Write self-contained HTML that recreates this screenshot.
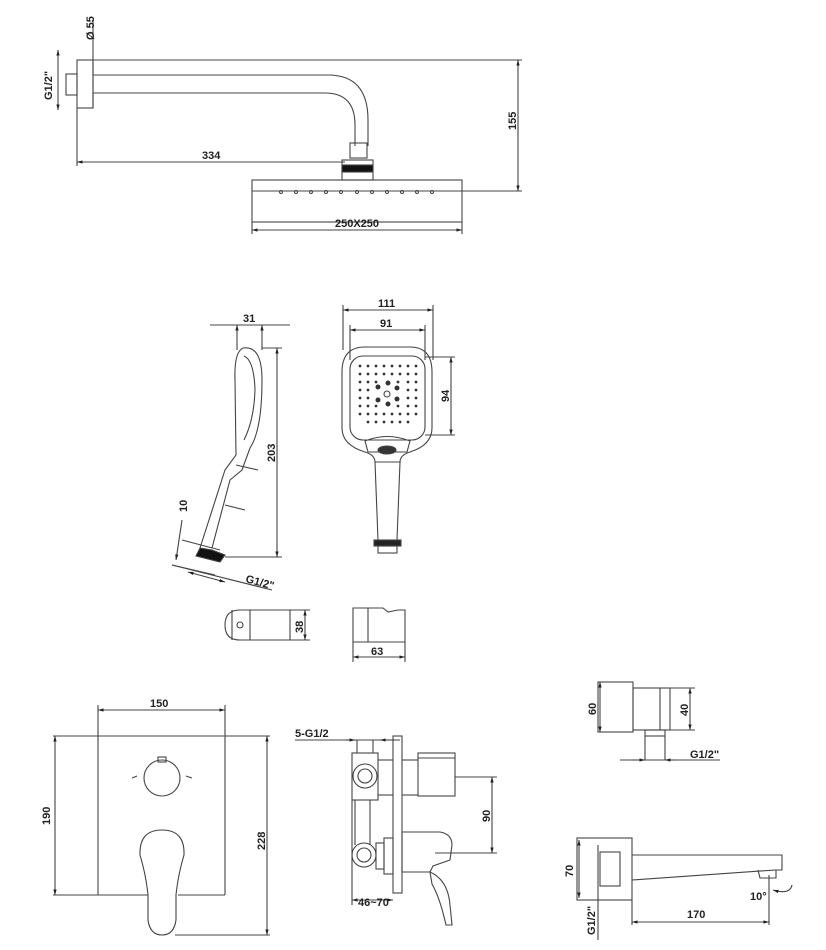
<!DOCTYPE html>
<html><head><style>html,body{margin:0;padding:0;background:#fff}svg{display:block}
text{font-family:"Liberation Sans",sans-serif;font-size:11px;fill:#222;font-weight:bold}</style></head>
<body>
<svg width="826" height="950" viewBox="0 0 826 950" xmlns="http://www.w3.org/2000/svg">
<defs>
<marker id="a" viewBox="0 0 10 10" refX="10" refY="5" markerWidth="9" markerHeight="5" orient="auto-start-reverse"><path d="M0,2 L10,5 L0,8z" fill="#222"/></marker>
</defs>
<g fill="none" stroke="#444" stroke-width="1.1">
<!-- TOP: shower arm -->
<rect x="77" y="60" width="16" height="48"/>
<rect x="66" y="74" width="11" height="21"/>
<path d="M93,75 H328 Q368,75 368,120 V146"/>
<path d="M93,93 H325 Q355,93 355,125 V146"/>
<rect x="350" y="143" width="17" height="15"/>
<rect x="342" y="160" width="31" height="20"/>
<rect x="342" y="165" width="31" height="7" fill="#111"/>
<rect x="252" y="180" width="210" height="42"/>
<line x1="252" y1="191" x2="462" y2="191"/>
<line x1="93" y1="60" x2="522" y2="60"/>
<line x1="462" y1="191" x2="522" y2="191"/>
<line x1="518" y1="60" x2="518" y2="191" marker-start="url(#a)" marker-end="url(#a)"/>
<line x1="77" y1="108" x2="77" y2="166"/>
<line x1="77" y1="162" x2="345" y2="162" marker-start="url(#a)"/>
<line x1="252" y1="222" x2="252" y2="234"/><line x1="462" y1="222" x2="462" y2="234"/>
<line x1="252" y1="230" x2="462" y2="230" marker-start="url(#a)" marker-end="url(#a)"/>
<line x1="93" y1="20" x2="93" y2="108" />
<line x1="58" y1="50" x2="58" y2="110" marker-start="url(#a)" marker-end="url(#a)"/>
<g stroke-width="1"><circle cx="281" cy="192" r="1.5"/><circle cx="296" cy="192" r="1.5"/><circle cx="311" cy="192" r="1.5"/><circle cx="326" cy="192" r="1.5"/><circle cx="341" cy="192" r="1.5"/><circle cx="357" cy="192" r="1.5"/><circle cx="372" cy="192" r="1.5"/><circle cx="387" cy="192" r="1.5"/><circle cx="402" cy="192" r="1.5"/><circle cx="417" cy="192" r="1.5"/><circle cx="432" cy="192" r="1.5"/></g>

<!-- hand shower side -->
<line x1="210" y1="325" x2="290" y2="325"/>
<line x1="237" y1="325" x2="237" y2="350" marker-start="url(#a)"/>
<line x1="262" y1="325" x2="262" y2="350" marker-start="url(#a)"/>
<path d="M243,348 Q262,345 262,380 Q262,430 250,448 L242,470 L230,480 L212,548"/>
<path d="M243,348 Q234,352 235,380 L236,455 L225,470 L200,548"/>
<path d="M244,356 Q254,360 255,390 Q254,420 244,440"/>
<line x1="236" y1="465" x2="258" y2="470"/>
<line x1="225" y1="505" x2="245" y2="510"/>
<path d="M200,548 L212,550 L225,555 L220,562 L196,556z" fill="#111"/>
<line x1="262" y1="348" x2="282" y2="348"/>
<line x1="225" y1="557" x2="282" y2="557"/>
<line x1="277" y1="348" x2="277" y2="557" marker-start="url(#a)" marker-end="url(#a)"/>
<line x1="182" y1="540" x2="220" y2="550"/>
<line x1="172" y1="565" x2="215" y2="575"/>
<line x1="182" y1="520" x2="176" y2="560" marker-end="url(#a)"/>
<line x1="172" y1="565" x2="272" y2="590"/>
<line x1="188" y1="572" x2="225" y2="582" marker-start="url(#a)" marker-end="url(#a)"/>

<!-- hand shower front -->
<line x1="343" y1="305" x2="343" y2="350"/><line x1="433" y1="305" x2="433" y2="360"/>
<line x1="343" y1="310" x2="433" y2="310" marker-start="url(#a)" marker-end="url(#a)"/>
<line x1="350" y1="325" x2="350" y2="360"/><line x1="425" y1="325" x2="425" y2="360"/>
<line x1="350" y1="330" x2="425" y2="330" marker-start="url(#a)" marker-end="url(#a)"/>
<path d="M365,347 H410 Q432,347 432,372 V428 Q432,445 410,452 Q400,455 400,462 H375 Q375,455 365,452 Q342,445 342,428 V372 Q342,347 365,347z"/>
<rect x="350" y="356" width="75" height="84" rx="13"/>
<path d="M365,441 Q387,432 410,441 L407,452 H368z"/>
<ellipse cx="387" cy="450" rx="9" ry="4" fill="#333"/>
<path d="M375,462 L378,540 H397 L400,462"/>
<rect x="374" y="540" width="27" height="6" fill="#222"/>
<rect x="378" y="546" width="19" height="7"/>
<line x1="425" y1="357" x2="455" y2="357"/><line x1="425" y1="435" x2="455" y2="435"/>
<line x1="451" y1="357" x2="451" y2="435" marker-start="url(#a)" marker-end="url(#a)"/>
<g fill="#333" stroke="none">
<circle cx="360" cy="366" r="1.4"/><circle cx="368" cy="366" r="1.4"/><circle cx="376" cy="366" r="1.4"/><circle cx="384" cy="366" r="1.4"/><circle cx="392" cy="366" r="1.4"/><circle cx="400" cy="366" r="1.4"/><circle cx="408" cy="366" r="1.4"/><circle cx="416" cy="366" r="1.4"/>
<circle cx="360" cy="374" r="1.4"/><circle cx="368" cy="374" r="1.4"/><circle cx="376" cy="374" r="1.4"/><circle cx="384" cy="374" r="1.4"/><circle cx="392" cy="374" r="1.4"/><circle cx="400" cy="374" r="1.4"/><circle cx="408" cy="374" r="1.4"/><circle cx="416" cy="374" r="1.4"/>
<circle cx="360" cy="382" r="1.4"/><circle cx="368" cy="382" r="1.4"/><circle cx="376" cy="382" r="1.4"/><circle cx="398" cy="382" r="1.4"/><circle cx="408" cy="382" r="1.4"/><circle cx="416" cy="382" r="1.4"/>
<circle cx="360" cy="390" r="1.4"/><circle cx="368" cy="390" r="1.4"/><circle cx="408" cy="390" r="1.4"/><circle cx="416" cy="390" r="1.4"/>
<circle cx="360" cy="398" r="1.4"/><circle cx="368" cy="398" r="1.4"/><circle cx="408" cy="398" r="1.4"/><circle cx="416" cy="398" r="1.4"/>
<circle cx="360" cy="406" r="1.4"/><circle cx="368" cy="406" r="1.4"/><circle cx="376" cy="406" r="1.4"/><circle cx="398" cy="406" r="1.4"/><circle cx="408" cy="406" r="1.4"/><circle cx="416" cy="406" r="1.4"/>
<circle cx="360" cy="414" r="1.4"/><circle cx="368" cy="414" r="1.4"/><circle cx="376" cy="414" r="1.4"/><circle cx="384" cy="414" r="1.4"/><circle cx="392" cy="414" r="1.4"/><circle cx="400" cy="414" r="1.4"/><circle cx="408" cy="414" r="1.4"/><circle cx="416" cy="414" r="1.4"/>
<circle cx="368" cy="422" r="1.4"/><circle cx="376" cy="422" r="1.4"/><circle cx="384" cy="422" r="1.4"/><circle cx="392" cy="422" r="1.4"/><circle cx="400" cy="422" r="1.4"/><circle cx="408" cy="422" r="1.4"/>
<circle cx="378" cy="387" r="2.5"/><circle cx="388" cy="383" r="2.5"/><circle cx="397" cy="388" r="2.5"/><circle cx="378" cy="400" r="2.5"/><circle cx="388" cy="404" r="2.5"/><circle cx="397" cy="399" r="2.5"/>
</g>
<circle cx="387" cy="394" r="3"/>

<!-- holders -->
<path d="M240,610 H290 V640 H240 Q225,640 225,625 Q225,610 240,610z"/>
<line x1="232" y1="610" x2="232" y2="640"/><line x1="250" y1="610" x2="250" y2="640"/>
<circle cx="240" cy="625" r="3"/>
<line x1="290" y1="610" x2="310" y2="610"/><line x1="290" y1="640" x2="310" y2="640"/>
<line x1="305" y1="610" x2="305" y2="640" marker-start="url(#a)" marker-end="url(#a)"/>
<path d="M353,608 H383 L388,612 L398,610 H405 V642 H353z"/>
<line x1="368" y1="608" x2="368" y2="642"/>
<line x1="353" y1="642" x2="353" y2="662"/><line x1="405" y1="642" x2="405" y2="662"/>
<line x1="353" y1="657" x2="405" y2="657" marker-start="url(#a)" marker-end="url(#a)"/>

<!-- bottom left plate -->
<line x1="98" y1="705" x2="98" y2="895"/><line x1="225" y1="705" x2="225" y2="895"/>
<line x1="98" y1="710" x2="225" y2="710" marker-start="url(#a)" marker-end="url(#a)"/>
<line x1="53" y1="736" x2="270" y2="736"/>
<line x1="53" y1="895" x2="148" y2="895"/><line x1="178" y1="895" x2="225" y2="895"/>
<line x1="55" y1="736" x2="55" y2="895" marker-start="url(#a)" marker-end="url(#a)"/>
<line x1="267" y1="736" x2="267" y2="935" marker-start="url(#a)" marker-end="url(#a)"/>
<line x1="175" y1="935" x2="270" y2="935"/>
<circle cx="162" cy="778" r="18"/>
<rect x="158" y="757" width="8" height="5"/>
<path d="M162,830 Q185,830 184,855 Q178,875 176,895 L176,920 Q174,935 162,935 Q150,935 148,920 L148,895 Q146,875 140,855 Q139,830 162,830z"/>
<line x1="132" y1="778" x2="137" y2="776"/><line x1="186" y1="776" x2="192" y2="778"/>

<!-- bottom middle valve -->
<line x1="295" y1="740" x2="400" y2="740"/>
<line x1="345" y1="740" x2="355" y2="740" marker-end="url(#a)"/>
<line x1="395" y1="740" x2="380" y2="740" marker-end="url(#a)"/>
<line x1="357" y1="740" x2="357" y2="753"/><line x1="373" y1="740" x2="373" y2="753"/>
<rect x="352" y="753" width="26" height="47"/>
<circle cx="365" cy="776" r="12"/><circle cx="365" cy="776" r="7"/>
<rect x="393" y="736" width="9" height="157"/>
<line x1="378" y1="760" x2="393" y2="760"/><line x1="378" y1="795" x2="393" y2="795"/>
<line x1="402" y1="760" x2="418" y2="760"/><line x1="402" y1="795" x2="418" y2="795"/>
<rect x="418" y="753" width="37" height="43"/>
<line x1="418" y1="758" x2="455" y2="758"/>
<line x1="455" y1="777" x2="497" y2="777"/>
<line x1="355" y1="800" x2="355" y2="845"/><line x1="370" y1="800" x2="370" y2="845"/>
<circle cx="364" cy="855" r="12"/><circle cx="364" cy="855" r="7"/>
<rect x="376" y="843" width="8" height="26"/>
<rect x="384" y="838" width="9" height="36"/>
<path d="M402,832 H432 L440,832 Q452,834 452,845 L450,860 L433,866 L430,872 H402z"/>
<path d="M430,872 Q448,880 450,905 L452,925 L446,925 Q440,898 432,884z"/>
<line x1="435" y1="853" x2="497" y2="853"/>
<line x1="492" y1="777" x2="492" y2="853" marker-start="url(#a)" marker-end="url(#a)"/>
<line x1="352" y1="800" x2="352" y2="905"/>
<line x1="352" y1="900" x2="393" y2="900" marker-start="url(#a)" marker-end="url(#a)"/>

<!-- right elbow -->
<rect x="598" y="682" width="35" height="50"/>
<rect x="633" y="688" width="37" height="42"/>
<line x1="660" y1="688" x2="660" y2="730"/>
<rect x="645" y="730" width="20" height="6"/>
<line x1="645" y1="736" x2="645" y2="760"/><line x1="665" y1="736" x2="665" y2="760"/>
<line x1="600" y1="682" x2="600" y2="732" marker-start="url(#a)" marker-end="url(#a)"/>
<line x1="670" y1="688" x2="695" y2="688"/><line x1="670" y1="730" x2="695" y2="730"/>
<line x1="690" y1="688" x2="690" y2="730" marker-start="url(#a)" marker-end="url(#a)"/>
<line x1="620" y1="760" x2="720" y2="760"/>
<line x1="632" y1="760" x2="645" y2="760" marker-end="url(#a)"/>
<line x1="677" y1="760" x2="665" y2="760" marker-end="url(#a)"/>

<!-- spout -->
<rect x="577" y="838" width="55" height="62"/>
<line x1="579" y1="840" x2="579" y2="898" marker-start="url(#a)" marker-end="url(#a)"/>
<rect x="600" y="852" width="20" height="34"/>
<line x1="598" y1="845" x2="598" y2="940"/>
<path d="M632,855 H782 V870 L775,870 L632,880"/>
<path d="M758,870 L760,878 H776 V870"/>
<line x1="632" y1="900" x2="632" y2="925"/><line x1="769" y1="875" x2="769" y2="925"/>
<line x1="632" y1="922" x2="769" y2="922" marker-start="url(#a)" marker-end="url(#a)"/>
<path d="M773,890 Q790,895 792,885" marker-start="url(#a)"/>
</g>
<g>
<text x="202" y="159">334</text>
<text x="335" y="227">250X250</text>
<text transform="translate(516,130) rotate(-90)">155</text>
<text transform="translate(94,40) rotate(-90)">Ø 55</text>
<text transform="translate(52,100) rotate(-90)">G1/2"</text>
<text x="243" y="322">31</text>
<text transform="translate(275,462) rotate(-90)">203</text>
<text transform="translate(187,512) rotate(-90)">10</text>
<text x="245" y="582" transform="rotate(15 245 582)">G1/2"</text>
<text x="378" y="307">111</text>
<text x="380" y="327">91</text>
<text transform="translate(449,402) rotate(-90)">94</text>
<text transform="translate(303,633) rotate(-90)">38</text>
<text x="371" y="655">63</text>
<text x="150" y="707">150</text>
<text transform="translate(50,825) rotate(-90)">190</text>
<text transform="translate(265,850) rotate(-90)">228</text>
<text x="295" y="737">5-G1/2</text>
<text transform="translate(490,822) rotate(-90)">90</text>
<text x="358" y="906">46~70</text>
<text transform="translate(596,715) rotate(-90)">60</text>
<text transform="translate(688,716) rotate(-90)">40</text>
<text x="690" y="758">G1/2"</text>
<text transform="translate(573,877) rotate(-90)">70</text>
<text transform="translate(595,935) rotate(-90)">G1/2"</text>
<text x="687" y="918">170</text>
<text x="750" y="900">10°</text>
</g>
</svg>
</body></html>
